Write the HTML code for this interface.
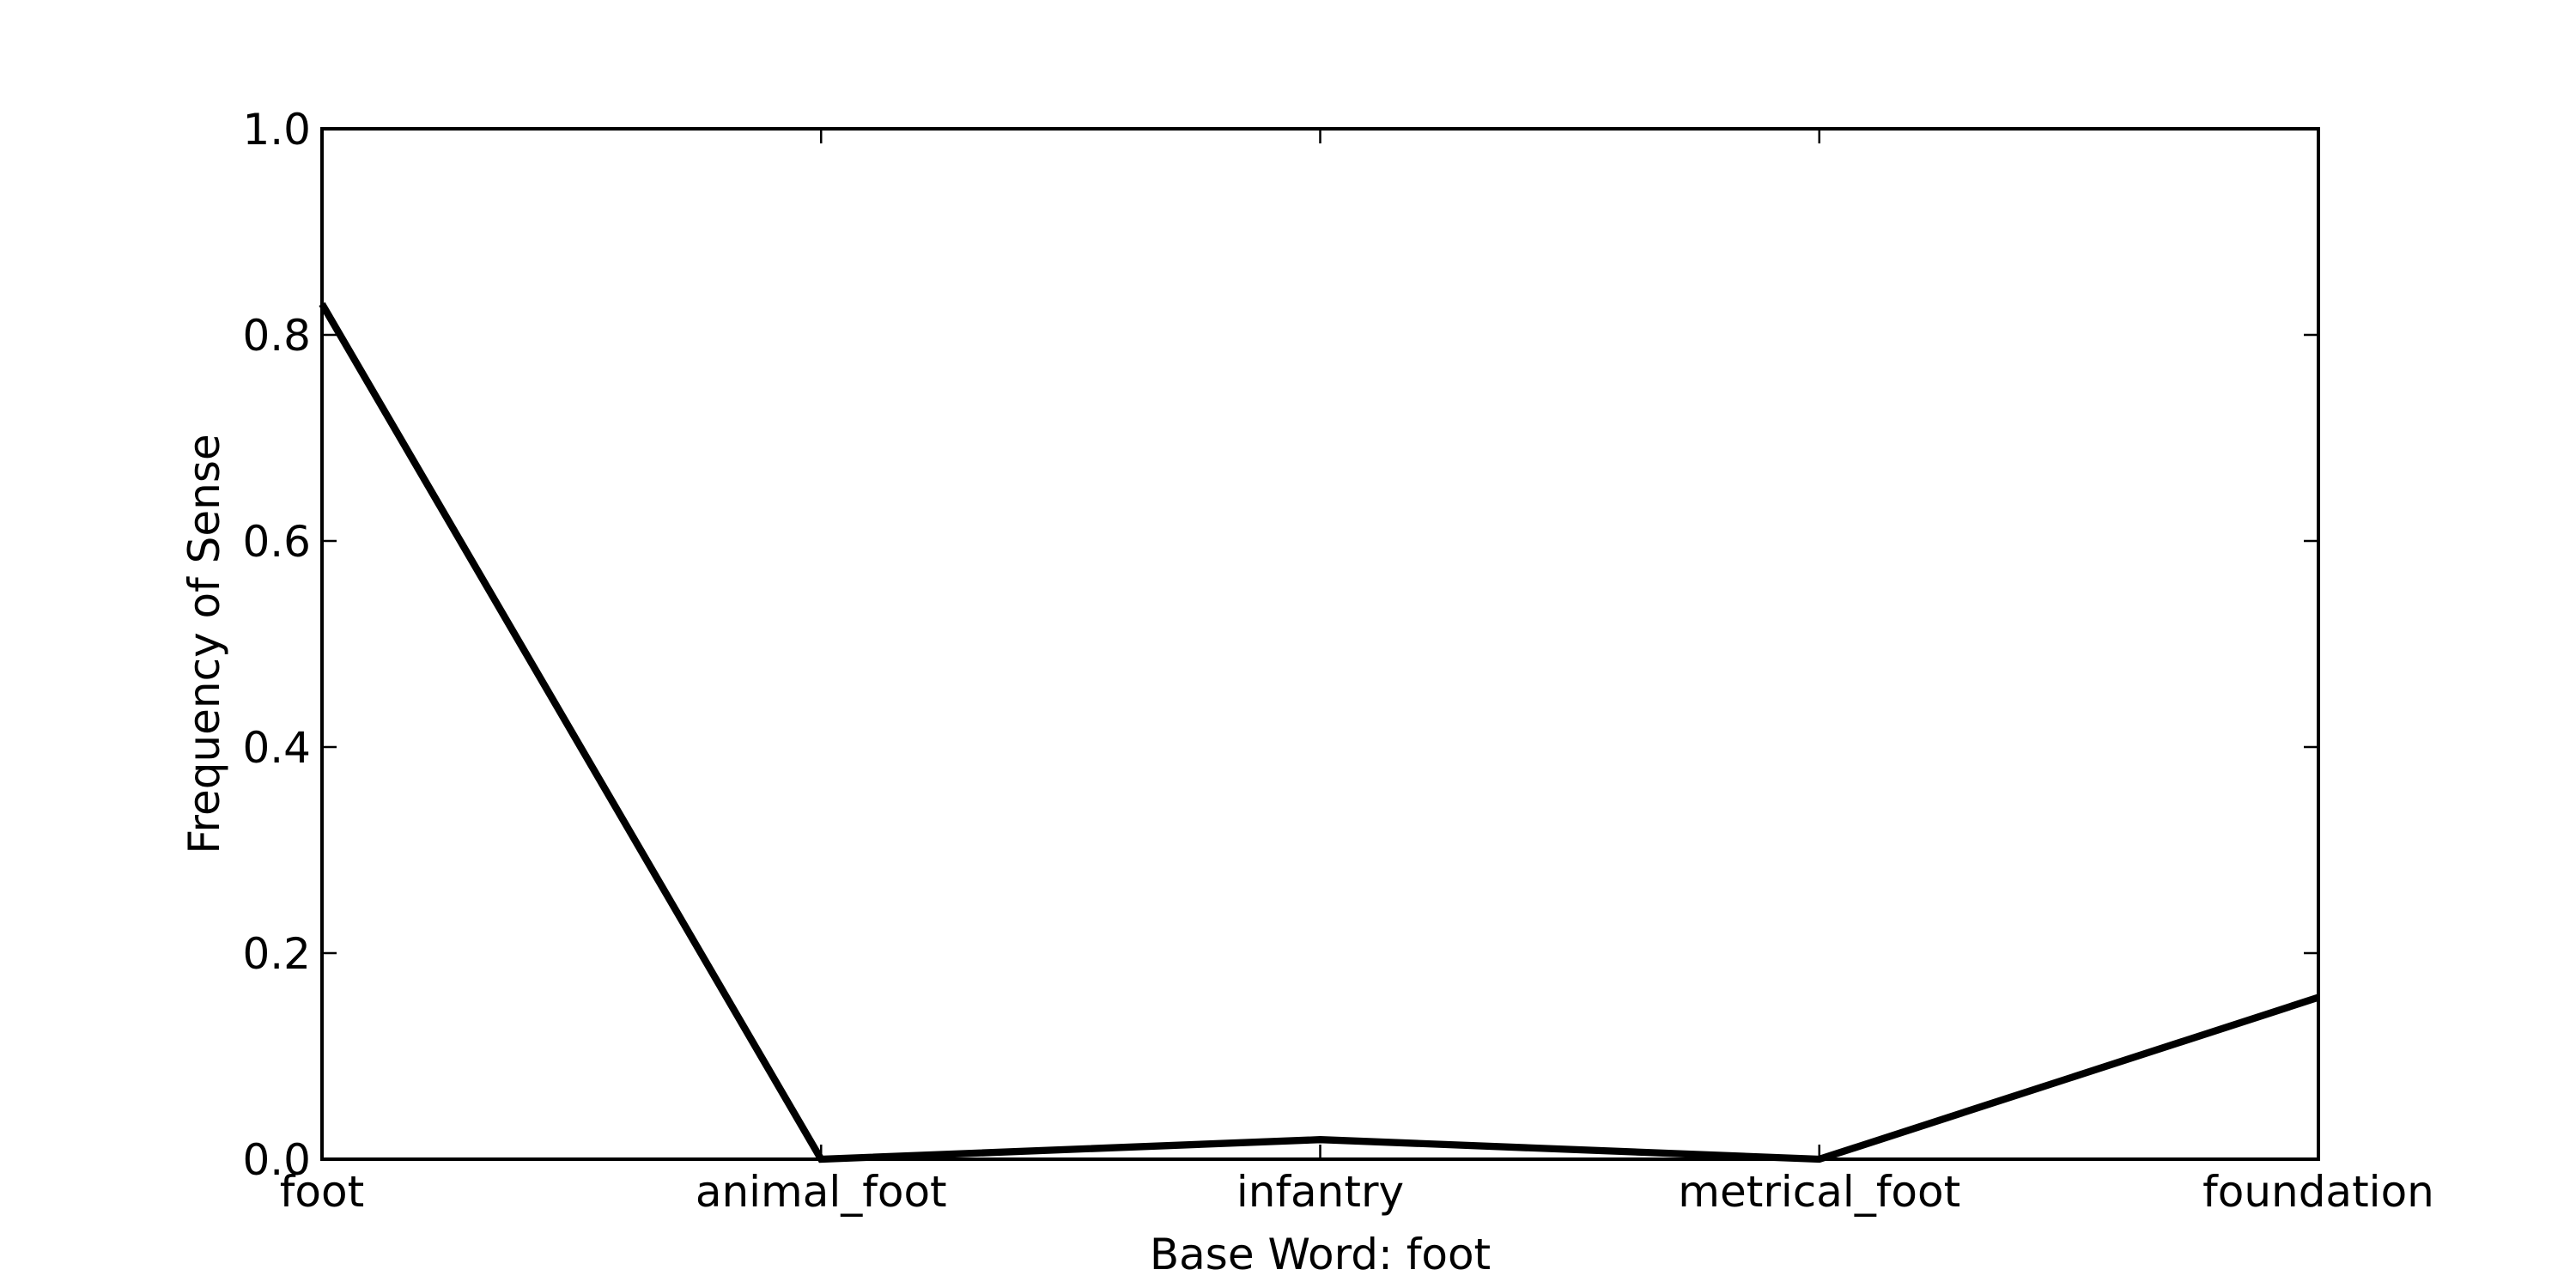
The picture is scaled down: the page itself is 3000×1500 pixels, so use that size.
<!DOCTYPE html>
<html><head><meta charset="utf-8"><style>
html,body{margin:0;padding:0;background:#fff;}
svg{display:block;font-family:"DejaVu Sans","Liberation Sans",sans-serif;}
</style></head><body>
<svg id="chart" width="3000" height="1500" viewBox="0 0 3000 1500" xmlns="http://www.w3.org/2000/svg"></svg>
<script>
const categories = ["foot","animal_foot","infantry","metrical_foot","foundation"];
const values = [0.83, 0.0, 0.019, 0.0, 0.157];
const yTicks = [0.0, 0.2, 0.4, 0.6, 0.8, 1.0];
const yTickLabels = ["0.0","0.2","0.4","0.6","0.8","1.0"];

const L=375,R=2700,T=150,B=1350;
const svg=document.getElementById('chart');
const NS='http://www.w3.org/2000/svg';
function xS(i){return L+(R-L)*i/(categories.length-1);}
function yS(v){return B-(B-T)*v;}
function mk(tag,attrs,parent){const e=document.createElementNS(NS,tag);for(const k in attrs)e.setAttribute(k,attrs[k]);(parent||svg).appendChild(e);return e;}

const pts=values.map((v,i)=>xS(i)+','+yS(v)).join(' ');
const line=mk('polyline',{points:pts,fill:'none',stroke:'#000','stroke-width':8.3,'stroke-linejoin':'miter'});



const frame=mk('rect',{x:L,y:T,width:R-L,height:B-T,fill:'none',stroke:'#000','stroke-width':4});



yTicks.forEach((t,i)=>{
  const y=yS(t);
  mk('line',{x1:L,y1:y,x2:L+17,y2:y,stroke:'#000','stroke-width':2.5});
  mk('line',{x1:R,y1:y,x2:R-17,y2:y,stroke:'#000','stroke-width':2.5});
  const tx=mk('text',{x:L-13,y:y+18,'font-size':50,'text-anchor':'end',fill:'#000'});
  tx.textContent=yTickLabels[i];
  
  
});
categories.forEach((c,i)=>{
  const x=xS(i);
  mk('line',{x1:x,y1:B,x2:x,y2:B-17,stroke:'#000','stroke-width':2.5});
  mk('line',{x1:x,y1:T,x2:x,y2:T+17,stroke:'#000','stroke-width':2.5});
  const tx=mk('text',{x:x,y:B+55,'font-size':50,'text-anchor':'middle',fill:'#000'});
  tx.textContent=c;
  
  
});
const xt=mk('text',{x:(L+R)/2,y:1478,'font-size':50,'text-anchor':'middle',fill:'#000'});
xt.textContent='Base Word: foot';


const yt=mk('text',{x:0,y:0,'font-size':50,'text-anchor':'middle',fill:'#000',transform:'translate(255,'+((T+B)/2)+') rotate(-90)'});
yt.textContent='Frequency of Sense';


</script>
</body></html>
